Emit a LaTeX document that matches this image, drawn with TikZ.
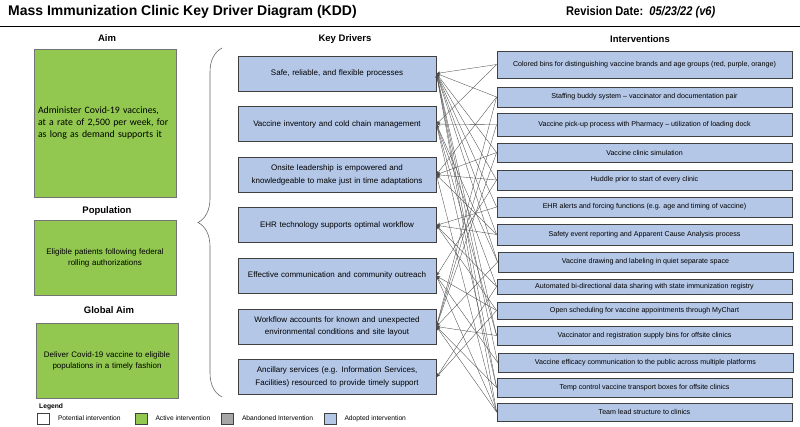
\documentclass[tikz,border=0pt]{standalone}
\usepackage{fontspec}
\setmainfont{Liberation Sans}
\newfontfamily\kddfont{Liberation Sans}
\newfontfamily\narrowfont[FakeStretch=0.88]{Liberation Sans}
\newfontfamily\aimfont{Carlito}
\usepackage{tikz}
\usetikzlibrary{positioning}
\usetikzlibrary{shapes.geometric, arrows.meta, decorations.pathreplacing}

\definecolor{activegreen}{RGB}{146,200,80}
\definecolor{adoptedblue}{RGB}{180,199,231}
\definecolor{abandongray}{RGB}{166,166,166}
\definecolor{boxline}{RGB}{64,64,64}

\begin{document}
\begin{tikzpicture}[x=1pt, y=-1pt, node distance=50.6pt]
\tikzstyle{aimbox} = [rectangle, draw=black!55, line width=0.8pt, fill=activegreen, minimum width=142pt, inner sep=3pt, text width=134pt]
\tikzstyle{driver} = [rectangle, draw=boxline, line width=0.8pt, fill=adoptedblue, minimum width=198pt, minimum height=35pt, text width=190pt, align=center, font=\kddfont\fontsize{8}{12.5}\selectfont]
\tikzstyle{interv} = [rectangle, draw=boxline, line width=0.8pt, fill=adoptedblue, minimum width=295pt, inner sep=0pt, font=\kddfont\fontsize{7.1}{8}\selectfont]
\tikzstyle{heading} = [font=\kddfont\bfseries\fontsize{9.5}{11}\selectfont]
\tikzstyle{legendbox} = [rectangle, draw=boxline, line width=0.6pt, minimum width=12pt, minimum height=11pt, inner sep=0pt]
\tikzstyle{legendtext} = [font=\kddfont\fontsize{6.7}{8}\selectfont, inner sep=0pt]
\tikzstyle{arrow} = [->, >={Stealth[length=4pt, width=3pt]}, draw=black!70, line width=0.35pt]

\useasboundingbox (0,0) rectangle (800,426);

\node (title) [anchor=base west, inner sep=0pt, font=\kddfont\bfseries\fontsize{14}{16}\selectfont] at (8,15) {Mass Immunization Clinic Key Driver Diagram (KDD)};
\node (revision) [anchor=base west, inner sep=0pt, font=\narrowfont\bfseries\fontsize{12.6}{16}\selectfont] at (566,15) {Revision Date:\ \ \textit{05/23/22 (v6)}};
\draw [line width=1pt] (0,26) -- (800,26);

\node (aimhead) [heading] at (107,38) {Aim};
\node (aim) [aimbox, minimum height=148pt, align=left, font=\aimfont\fontsize{9.8}{12}\selectfont] at (105,123) {Administer Covid-19 vaccines,\\ at a rate of 2,500 per week, for\\ as long as demand supports it};
\node (pophead) [heading] at (107,211) {Population};
\node (population) [aimbox, minimum height=75pt, align=center, font=\kddfont\fontsize{8}{11}\selectfont] at (105,257.5) {Eligible patients following federal\\ rolling authorizations};
\node (globalhead) [heading] at (109,310) {Global Aim};
\node (global) [aimbox, minimum height=75pt, align=center, font=\kddfont\fontsize{8}{11}\selectfont] at (107,360.5) {Deliver Covid-19 vaccine to eligible\\ populations in a timely fashion};

\draw [decorate, decoration={brace, amplitude=24pt}, draw=black!60, line width=0.6pt] (222,397) -- (222,48);

\node (drivershead) [heading] at (345,39) {Key Drivers};
\node (safe) [driver] at (337,73.5) {Safe, reliable, and flexible processes};
\node (inventory) [driver, below of=safe] {Vaccine inventory and cold chain management};
\node (leadership) [driver, below of=inventory] {Onsite leadership is empowered and\\ knowledgeable to make just in time adaptations};
\node (ehr) [driver, below of=leadership] {EHR technology supports optimal workflow};
\node (outreach) [driver, below of=ehr] {Effective communication and community outreach};
\node (workflow) [driver, below of=outreach] {Workflow accounts for known and unexpected\\ environmental conditions and site layout};
\node (ancillary) [driver, below of=workflow] {Ancillary services (e.g. Information Services,\\ Facilities) resourced to provide timely support};

\node (intervhead) [heading] at (640,39) {Interventions};
\node (bins) [interv, minimum height=27pt] at (644.5,64.5) {Colored bins for distinguishing vaccine brands and age groups (red, purple, orange)};
\node (buddy) [interv, minimum height=20pt] at (644.5,97) {Staffing buddy system – vaccinator and documentation pair};
\node (pickup) [interv, minimum height=23pt] at (644.5,124.5) {Vaccine pick-up process with Pharmacy – utilization of loading dock};
\node (simulation) [interv, minimum height=19pt] at (644.5,152.5) {Vaccine clinic simulation};
\node (huddle) [interv, minimum height=20pt] at (644.5,180) {Huddle prior to start of every clinic};
\node (alerts) [interv, minimum height=20pt] at (644.5,207) {EHR alerts and forcing functions (e.g. age and timing of vaccine)};
\node (safety) [interv, minimum height=21pt] at (644.5,234.5) {Safety event reporting and Apparent Cause Analysis process};
\node (drawing) [interv, minimum height=20pt] at (645.5,262) {Vaccine drawing and labeling in quiet separate space};
\node (registry) [interv, minimum height=15pt] at (644.5,286.5) {Automated bi-directional data sharing with state immunization registry};
\node (scheduling) [interv, minimum height=17pt] at (644.5,310.5) {Open scheduling for vaccine appointments through MyChart};
\node (supply) [interv, minimum height=19pt] at (644.5,335.5) {Vaccinator and registration supply bins for offsite clinics};
\node (efficacy) [interv, minimum height=19pt] at (645.5,362.5) {Vaccine efficacy communication to the public across multiple platforms};
\node (tempbox) [interv, minimum height=19pt] at (644.5,387.5) {Temp control vaccine transport boxes for offsite clinics};
\node (teamlead) [interv, minimum height=18pt] at (644.5,412) {Team lead structure to clinics};

\draw [arrow] (bins.west) -- (safe.east);
\draw [arrow] (bins.west) -- (inventory.east);
\draw [arrow] (buddy.west) -- (safe.east);
\draw [arrow] (buddy.west) -- (leadership.east);
\draw [arrow] (buddy.west) -- (workflow.east);
\draw [arrow] (pickup.west) -- (inventory.east);
\draw [arrow] (pickup.west) -- (workflow.east);
\draw [arrow] (simulation.west) -- (safe.east);
\draw [arrow] (simulation.west) -- (leadership.east);
\draw [arrow] (simulation.west) -- (workflow.east);
\draw [arrow] (huddle.west) -- (safe.east);
\draw [arrow] (huddle.west) -- (leadership.east);
\draw [arrow] (huddle.west) -- (outreach.east);
\draw [arrow] (alerts.west) -- (safe.east);
\draw [arrow] (alerts.west) -- (ehr.east);
\draw [arrow] (safety.west) -- (safe.east);
\draw [arrow] (safety.west) -- (leadership.east);
\draw [arrow] (safety.west) -- (ehr.east);
\draw [arrow] (drawing.west) -- (safe.east);
\draw [arrow] (drawing.west) -- (inventory.east);
\draw [arrow] (drawing.west) -- (workflow.east);
\draw [arrow] (registry.west) -- (inventory.east);
\draw [arrow] (registry.west) -- (ehr.east);
\draw [arrow] (registry.west) -- (ancillary.east);
\draw [arrow] (scheduling.west) -- (ehr.east);
\draw [arrow] (scheduling.west) -- (outreach.east);
\draw [arrow] (scheduling.west) -- (ancillary.east);
\draw [arrow] (supply.west) -- (safe.east);
\draw [arrow] (supply.west) -- (inventory.east);
\draw [arrow] (supply.west) -- (workflow.east);
\draw [arrow] (efficacy.west) -- (safe.east);
\draw [arrow] (efficacy.west) -- (outreach.east);
\draw [arrow] (tempbox.west) -- (safe.east);
\draw [arrow] (tempbox.west) -- (inventory.east);
\draw [arrow] (tempbox.west) -- (workflow.east);
\draw [arrow] (teamlead.west) -- (safe.east);
\draw [arrow] (teamlead.west) -- (leadership.east);
\draw [arrow] (teamlead.west) -- (outreach.east);
\draw [arrow] (teamlead.west) -- (workflow.east);

\node (legendhead) [anchor=west, inner sep=0pt, font=\kddfont\bfseries\fontsize{6.7}{8}\selectfont] at (39,407) {Legend};
\node (potential) [legendbox, fill=white] at (43.5,418.5) {};
\node (potentialtext) [legendtext, right=8pt of potential] {Potential intervention};
\node (active) [legendbox, fill=activegreen] at (141,418.5) {};
\node (activetext) [legendtext, right=8pt of active] {Active intervention};
\node (abandoned) [legendbox, fill=abandongray] at (227.5,418.5) {};
\node (abandonedtext) [legendtext, right=8pt of abandoned] {Abandoned Intervention};
\node (adopted) [legendbox, fill=adoptedblue] at (330,418.5) {};
\node (adoptedtext) [legendtext, right=8pt of adopted] {Adopted intervention};
\end{tikzpicture}
\end{document}
